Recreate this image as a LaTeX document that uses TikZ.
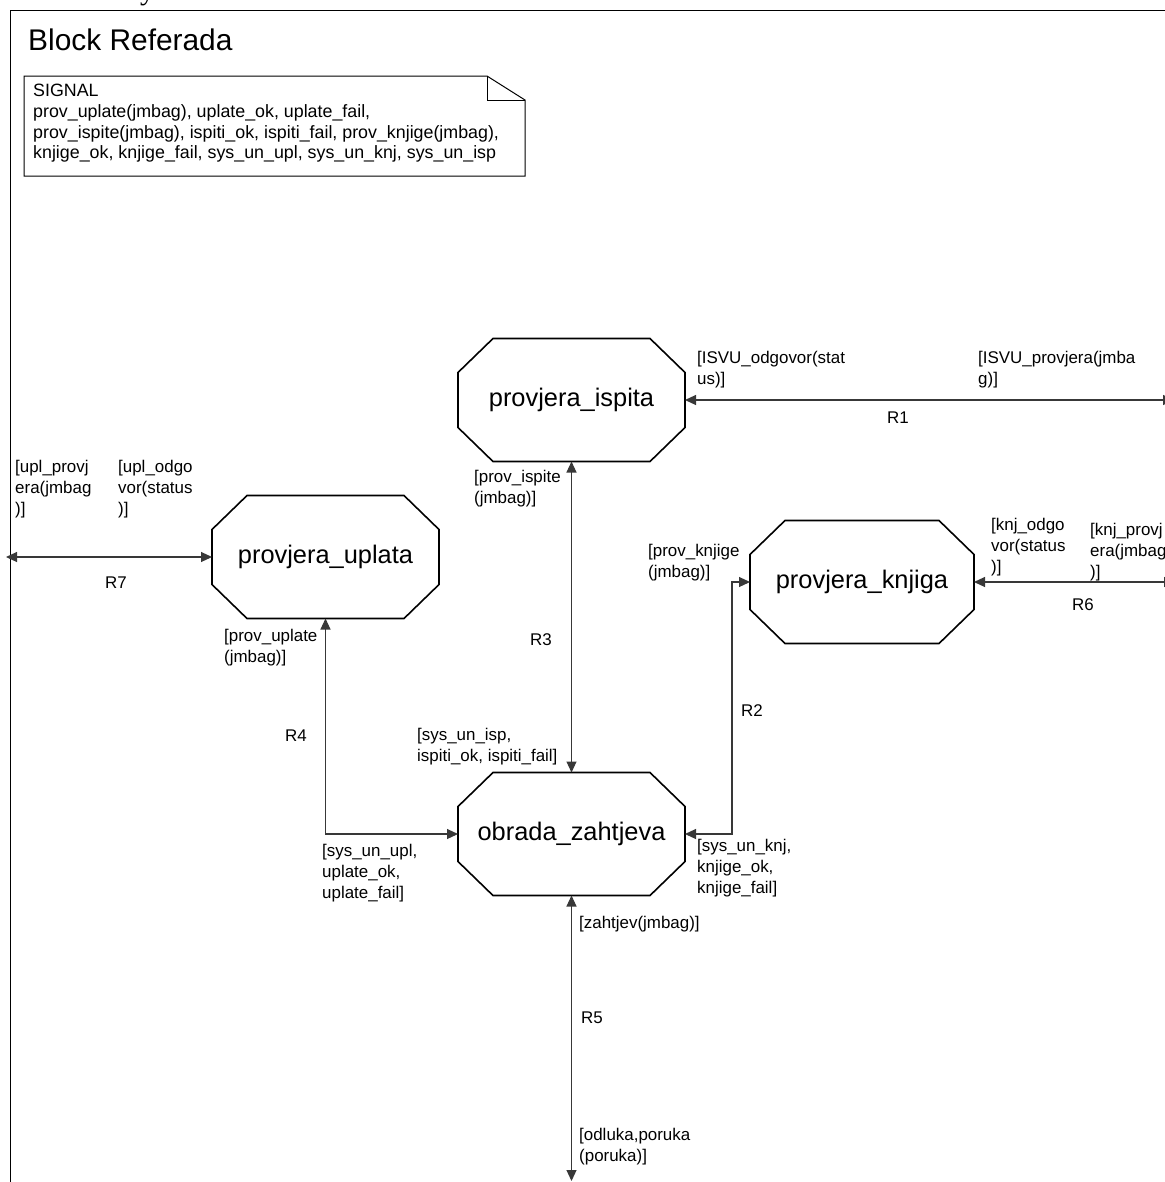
\documentclass[tikz,border=0pt]{standalone}
\usepackage{fontspec}
\setmainfont{Liberation Sans}
\newfontfamily\serifcut{Liberation Serif}
\usetikzlibrary{arrows.meta,calc}

\tikzset{
  lbl/.style={font=\fontsize{17}{21}\selectfont, align=left, inner sep=0pt, anchor=north west},
  rlbl/.style={font=\fontsize{17}{21}\selectfont, inner sep=0pt, anchor=center},
  state/.style={rectangle, minimum width=227bp, minimum height=123bp, inner sep=0pt, outer sep=0pt,
                font=\fontsize{25.5}{30}\selectfont},
  octline/.style={line width=1.6bp, draw=black},
  conn/.style={line width=1.1bp, draw=black!78,
               {Triangle[length=11bp,width=10bp]}-{Triangle[length=11bp,width=10bp]}},
}

% chamfered outline drawn around a state node
\newcommand\octo[1]{%
  \draw[octline] ($(#1.north west)+(35,0)$) -- ($(#1.north east)+(-35,0)$)
    -- ($(#1.north east)+(0,34)$) -- ($(#1.south east)+(0,-34)$)
    -- ($(#1.south east)+(-35,0)$) -- ($(#1.south west)+(35,0)$)
    -- ($(#1.south west)+(0,-34)$) -- ($(#1.north west)+(0,34)$) -- cycle;}

\begin{document}
\begin{tikzpicture}[x=1bp,y=-1bp]
\useasboundingbox[fill=white] (0,0) rectangle (1165,1182);

% block frame
\draw[line width=1bp] (10,1250) -- (10,10) -- (1250,10);
\node[anchor=base west, inner sep=0pt, font=\serifcut\fontsize{30}{34}\selectfont] (cuty) at (140,-1) {y};
\node[anchor=base west, inner sep=0pt, font=\fontsize{30}{36}\selectfont] (title) at (28,50) {Block Referada};

% signal declaration note
\draw[line width=1bp] (24,76) -- (487,76) -- (525,100) -- (525,176) -- (24,176) -- cycle;
\draw[line width=1bp] (487,76) -- (487,100) -- (525,100);
\node[lbl, font=\fontsize{17.9}{20.8}\selectfont] (sig) at (33,84)
  {SIGNAL\\prov\_uplate(jmbag), uplate\_ok, uplate\_fail,\\prov\_ispite(jmbag), ispiti\_ok, ispiti\_fail, prov\_knjige(jmbag),\\knjige\_ok, knjige\_fail, sys\_un\_upl, sys\_un\_knj, sys\_un\_isp};

% processes
\node[state] (isp) at (571.5,400) {provjera\_ispita};
\node[state] (upl) at (325.5,557) {provjera\_uplata};
\node[state, minimum width=224bp] (knj) at (862,582) {provjera\_knjiga};
\node[state] (obr) at (571.5,834) {obrada\_zahtjeva};
\octo{isp}\octo{upl}\octo{knj}\octo{obr}

% free channel ends at the block border
\coordinate (r1end) at (1174,400);
\coordinate (r7end) at (6,557);
\coordinate (r6end) at (1175,582);
\coordinate (r5end) at (571.5,1181);
\coordinate (r2bend) at (732,834);

% channels
\draw[conn] (isp.east) -- (r1end);
\draw[conn] (r7end) -- (upl.west);
\draw[conn] (isp.south) -- (obr.north);
\draw[conn] (upl.south) |- (obr.west);
\draw[conn] (obr.east) -- (r2bend) |- (knj.west);
\draw[conn] (knj.east) -- (r6end);
\draw[conn] (obr.south) -- (r5end);

% channel labels
\node[lbl] (isvuodg) at (697,351.5) {[ISVU\_odgovor(stat\\us)]};
\node[lbl] (isvuprov) at (978,351.5) {[ISVU\_provjera(jmba\\g)]};
\node[rlbl] (r1) at (898,418) {R1};

\node[lbl] (uplprov) at (15,460.5) {[upl\_provj\\era(jmbag\\)]};
\node[lbl] (uplodg) at (118,460.5) {[upl\_odgo\\vor(status\\)]};
\node[rlbl] (r7) at (116,583) {R7};

\node[lbl] (provisp) at (474,470.5) {[prov\_ispite\\(jmbag)]};
\node[rlbl] (r3) at (541,640) {R3};
\node[lbl] (sysisp) at (417,728.5) {[sys\_un\_isp,\\ispiti\_ok, ispiti\_fail]};

\node[lbl] (provupl) at (224,629.5) {[prov\_uplate\\(jmbag)]};
\node[rlbl] (r4) at (296,736) {R4};
\node[lbl] (sysupl) at (322,844.5) {[sys\_un\_upl,\\uplate\_ok,\\uplate\_fail]};

\node[lbl] (provknj) at (648,544.5) {[prov\_knjige\\(jmbag)]};
\node[rlbl] (r2) at (752,711) {R2};
\node[lbl] (sysknj) at (697,839.5) {[sys\_un\_knj,\\knjige\_ok,\\knjige\_fail]};

\node[lbl] (knjodg) at (991,518.5) {[knj\_odgo\\vor(status\\)]};
\node[lbl] (knjprov) at (1090,523.5) {[knj\_provj\\era(jmbag\\)]};
\node[rlbl] (r6) at (1083,605) {R6};

\node[lbl] (zaht) at (579,916.5) {[zahtjev(jmbag)]};
\node[rlbl] (r5) at (592,1018) {R5};
\node[lbl] (odl) at (579,1128.5) {[odluka,poruka\\(poruka)]};
\end{tikzpicture}
\end{document}
